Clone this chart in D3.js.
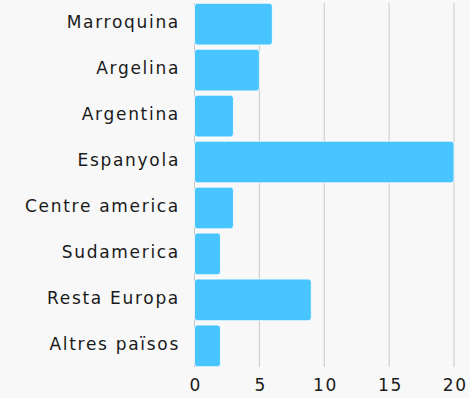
<!DOCTYPE html>
<html>
<head>
<meta charset="utf-8">
<script src="https://cdn.jsdelivr.net/npm/d3@7"></script>
<style>
  html, body { margin: 0; padding: 0; background: #f8f8f8; }
  svg { display: block; }
  text { font-family: "DejaVu Sans", sans-serif; fill: #1a1a1a; }
</style>
</head>
<body>
<svg id="chart" width="470" height="398"></svg>
<script>
const categories = ["Marroquina", "Argelina", "Argentina", "Espanyola", "Centre america", "Sudamerica", "Resta Europa", "Altres països"];
const values = [6, 5, 3, 20, 3, 2, 9, 2];
const xTicks = [0, 5, 10, 15, 20];

const svg = d3.select("#chart");
const width = 470, height = 398;
svg.append("rect").attr("width", width).attr("height", height).attr("fill", "#f8f8f8");

const x = d3.scaleLinear().domain([0, 20]).range([194.5, 454]);
const y = d3.scaleBand().domain(categories).range([1.2, 368.8]).paddingInner(0.093).paddingOuter(0.046);

const labelFont = "'DejaVu Sans', sans-serif";

// vertical grid lines
svg.append("g").selectAll("line").data(xTicks).join("line")
  .attr("x1", d => x(d)).attr("x2", d => x(d))
  .attr("y1", 3).attr("y2", 367)
  .attr("stroke", "#c8c8c8").attr("stroke-width", 1);

// bars
svg.append("g").selectAll("rect").data(categories).join("rect")
  .attr("x", x(0))
  .attr("y", d => y(d))
  .attr("width", (d, i) => x(values[i]) - x(0))
  .attr("height", y.bandwidth())
  .attr("rx", 3)
  .attr("fill", "#48c4ff")
  .attr("stroke", "#ffffff").attr("stroke-width", 0.8);

// category labels
const yAxis = svg.append("g").attr("transform", `translate(${x(0)},0)`)
  .call(d3.axisLeft(y).tickSize(0).tickPadding(14.5));
yAxis.select(".domain").remove();
yAxis.selectAll("text")
  .attr("font-size", 17).attr("dy", "0.24em")
  .style("font-family", labelFont).style("letter-spacing", "1.7px")
  .attr("fill", "#1a1a1a");

// value axis
const xAxis = svg.append("g").attr("transform", `translate(0,367)`)
  .call(d3.axisBottom(x).tickValues(xTicks).tickSize(0).tickPadding(12));
xAxis.select(".domain").remove();
xAxis.selectAll("text")
  .attr("font-size", 17).attr("dx", "0.85")
  .style("font-family", labelFont).style("letter-spacing", "1.7px")
  .attr("fill", "#1a1a1a");
</script>
</body>
</html>
